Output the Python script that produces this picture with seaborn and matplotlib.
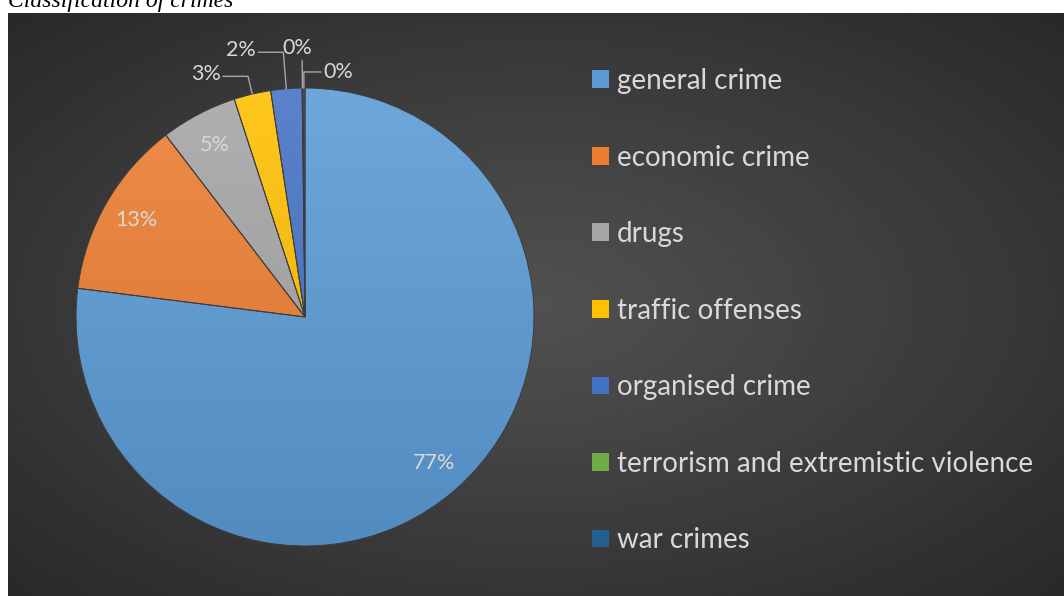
import numpy as np
import pandas as pd
import matplotlib
matplotlib.use("Agg")
import matplotlib.pyplot as plt
import matplotlib.colors as mcolors
from matplotlib.patches import Patch
import seaborn as sns

# data
categories = ["general crime", "economic crime", "drugs", "traffic offenses",
              "organised crime", "terrorism and extremistic violence", "war crimes"]
shares = [77.0, 12.6, 5.4, 2.6, 2.2, 0.05, 0.15]
pct_labels = ["77%", "13%", "5%", "3%", "2%", "0%", "0%"]
colors = ["#5B9BD5", "#ED7D31", "#A5A5A5", "#FFC000", "#4472C4", "#70AD47", "#255E91"]

df = pd.DataFrame({"category": categories, "share": shares, "label": pct_labels})

sns.set_theme(style="dark")
plt.rcParams["font.family"] = ["Lato", "DejaVu Sans"]
palette = sns.color_palette(colors)

W, H = 1064, 596
fig = plt.figure(figsize=(W / 100, H / 100), dpi=100)
fig.patch.set_facecolor("white")

# cropped caption above the chart (only its lower edge shows, as in the source)
fig.text(8 / W, 1 - 7 / H, "Classification of crimes", fontsize=17,
         family="Liberation Serif", fontstyle="italic", color="black", va="baseline")

# dark background with radial gradient
bg = fig.add_axes([8 / W, 0, 1 - 8 / W, 583 / H])
yy, xx = np.mgrid[0:1:300j, 0:1:600j]
d = np.sqrt((xx - 0.5) ** 2 + (yy - 0.5) ** 2) / np.sqrt(0.5)
shade = 0.315 - (0.315 - 0.16) * d ** 1.1
bg.imshow(shade, cmap="gray", vmin=0, vmax=1, aspect="auto", extent=(0, 1, 0, 1))
bg.set_axis_off()

# pie
cx, cy, r = 305, 317, 229
ax = fig.add_axes([(cx - r) / W, (H - cy - r) / H, 2 * r / W, 2 * r / H])
ax.set_facecolor("none")
wedges, _ = ax.pie(df["share"], colors=palette, startangle=90, counterclock=False,
                   radius=1, wedgeprops=dict(edgecolor="#3c3c3c", linewidth=0.7))

# soft vertical gradient inside each slice
for w, c in zip(wedges, palette):
    top = np.array(mcolors.to_rgb(c)) * 0.88 + 0.12
    bot = np.array(mcolors.to_rgb(c)) * 0.9
    t = np.linspace(0, 1, 256)[:, None, None]
    img = top * (1 - t) + bot * t
    im = ax.imshow(img, extent=(-1, 1, -1, 1), aspect="auto", zorder=0.5)
    im.set_clip_path(w)
    w.set_facecolor("none")
    w.set_zorder(1)

text_col = "#D9D9D9"
line_col = "#A6A6A6"
lab_size = 15.5

# labels inside the big slices
for i in range(3):
    w = wedges[i]
    th = np.deg2rad((w.theta1 + w.theta2) / 2)
    ax.text(0.85 * np.cos(th), 0.85 * np.sin(th), df["label"][i], color=text_col,
            fontsize=lab_size, ha="center", va="center", zorder=3)

# leader lines for the small slices: (elbow radius, horizontal run)
leaders = {3: (1.08, -0.11), 4: (1.16, -0.11), 5: (1.12, 0.0), 6: (1.07, 0.075)}
for i, (re, run) in leaders.items():
    w = wedges[i]
    th = np.deg2rad((w.theta1 + w.theta2) / 2)
    p0 = np.array([np.cos(th), np.sin(th)])
    p1 = p0 * re
    p2 = p1 + np.array([run, 0])
    ax.plot([p0[0], p1[0], p2[0]], [p0[1], p1[1], p2[1]], color=line_col, lw=1,
            zorder=3, clip_on=False)
    if run < 0:
        ax.text(p2[0] - 0.01, p2[1] + 0.01, df["label"][i], color=text_col,
                fontsize=lab_size, ha="right", va="center")
    elif run > 0:
        ax.text(p2[0] + 0.01, p2[1] + 0.0, df["label"][i], color=text_col,
                fontsize=lab_size, ha="left", va="center")
    else:
        ax.text(p2[0] - 0.02, p2[1] + 0.01, df["label"][i], color=text_col,
                fontsize=lab_size, ha="center", va="bottom")

ax.set_xlim(-1, 1)
ax.set_ylim(-1, 1)
ax.set_axis_off()

# legend
handles = [Patch(facecolor=c, edgecolor="none") for c in palette]
leg = fig.legend(handles, df["category"], loc="upper left",
                 bbox_to_anchor=(592 / W, 1 - 68 / H), frameon=False,
                 fontsize=20, labelcolor=text_col, labelspacing=1.82,
                 handlelength=0.6, handleheight=0.6, handletextpad=0.3,
                 borderpad=0, borderaxespad=0)

fig.savefig("out.png", dpi=100, facecolor=fig.get_facecolor())
